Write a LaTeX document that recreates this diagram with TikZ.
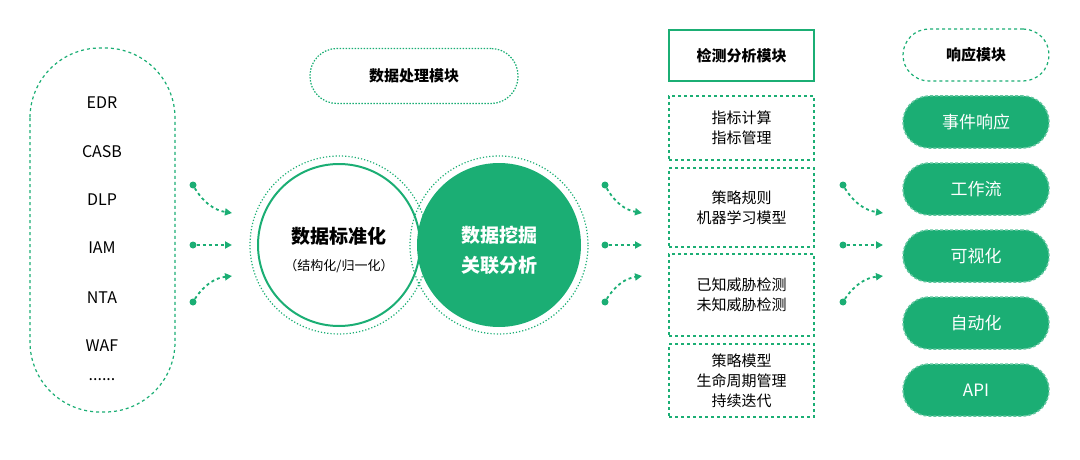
\documentclass[tikz,border=0pt]{standalone}
\usepackage{fontspec}
\setmainfont{Noto Sans CJK SC}
\usetikzlibrary{arrows.meta}
\definecolor{gr}{HTML}{1BAE74}
\tikzset{
  dbox/.style={draw=gr,dashed,line width=1.2pt,dash pattern=on 3pt off 3pt},
  pill/.style={fill=gr,draw=gr!70,dashed,line width=1.5pt,dash pattern=on 3pt off 2pt,rounded corners=26pt,minimum width=146pt,minimum height=52pt,text=white,font=\fontsize{17}{20}\selectfont},
  lbl/.style={font=\fontsize{15}{20}\selectfont},
  arr/.style={gr,line width=1.8pt,dash pattern=on 3pt off 3pt,-{Triangle[length=7pt,width=7pt]}},
  dot/.style={circle,fill=gr,inner sep=0pt,minimum size=7pt},
  src/.style={font=\fontsize{16}{18}\selectfont},
}
\begin{document}
\begin{tikzpicture}[x=1pt,y=-1pt]
\useasboundingbox (0,0) rectangle (1080,460);
% left sources
\draw[dbox,rounded corners=70pt] (30,48) rectangle (175,412);
\node[src] (s1) at (102,103) {EDR};
\node[src] (s2) at (102,152) {CASB};
\node[src] (s3) at (102,200) {DLP};
\node[src] (s4) at (102,248) {IAM};
\node[src] (s5) at (102,298) {NTA};
\node[src] (s6) at (102,346) {WAF};
\node[src] (s7) at (102,380) {......};
% processing header
\node[dbox,dash pattern=on 1.5pt off 1.5pt,rounded corners=27pt,minimum width=208pt,minimum height=55pt,font=\bfseries\fontsize{15}{18}\selectfont] (ph) at (414,76) {数据处理模块};
% circles
\draw[gr,line width=1.2pt,dotted] (339,245) circle (89);
\draw[gr,line width=1.2pt,dotted] (499,245) circle (89);
\fill[gr] (499,245) circle (82);
\draw[gr,line width=2pt] (339,245) circle (81);
\node[font=\bfseries\fontsize{19}{22}\selectfont] (c1) at (339,236) {数据标准化};
\node[font=\fontsize{13}{16}\selectfont] (c1b) at (339,266) {（结构化/归一化）};
\node[font=\bfseries\fontsize{19}{30}\selectfont,text=white,align=center] (c2) at (499,250) {数据挖掘\\关联分析};
% arrows
\foreach \xa/\xb/\n in {193/232/a,605/642/b,843/883/c}{
  \node[dot] (\n1) at (\xa,185) {};
  \node[dot] (\n2) at (\xa,245) {};
  \node[dot] (\n3) at (\xa,302) {};
  \coordinate (\n1e) at (\xb,213);
  \coordinate (\n2e) at (\xb,245);
  \coordinate (\n3e) at (\xb,276);
  \draw[arr] (\n1) to[bend right=25] (\n1e);
  \draw[arr] (\n2) -- (\n2e);
  \draw[arr] (\n3) to[bend left=25] (\n3e);
}
% detection
\node[draw=gr,line width=1.2pt,minimum width=145pt,minimum height=51pt,font=\bfseries\fontsize{15}{18}\selectfont] (dh) at (741.5,55.5) {检测分析模块};
\node[dbox,minimum width=145pt,minimum height=64pt,lbl,align=center] (d1) at (741.5,128) {指标计算\\指标管理};
\node[dbox,minimum width=145pt,minimum height=79pt,lbl,align=center] (d2) at (741.5,207.5) {策略规则\\机器学习模型};
\node[dbox,minimum width=145pt,minimum height=82pt,lbl,align=center] (d3) at (741.5,295) {已知威胁检测\\未知威胁检测};
\node[dbox,minimum width=145pt,minimum height=73pt,lbl,align=center] (d4) at (741.5,380.5) {策略模型\\生命周期管理\\持续迭代};
% response
\node[dbox,rounded corners=26pt,minimum width=146pt,minimum height=52pt,font=\bfseries\fontsize{15}{18}\selectfont] (rh) at (976,55) {响应模块};
\node[pill] (r1) at (976,122) {事件响应};
\node[pill] (r2) at (976,189) {工作流};
\node[pill] (r3) at (976,256) {可视化};
\node[pill] (r4) at (976,323) {自动化};
\node[pill] (r5) at (976,390) {API};
\end{tikzpicture}
\end{document}
